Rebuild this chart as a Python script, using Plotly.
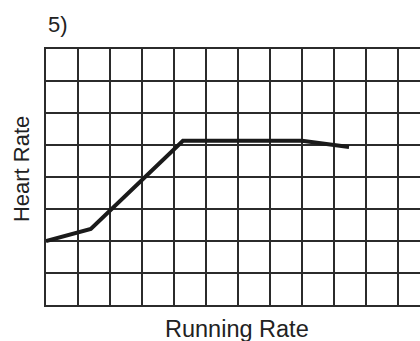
import plotly.graph_objects as go

# Data (grid units)
running_rate = [0, 1.4, 4.28, 8.0, 9.47]
heart_rate = [2, 2.375, 5.13, 5.13, 4.94]
x_grid = list(range(1, 12))
y_grid = list(range(1, 8))

fig = go.Figure()
fig.add_trace(go.Scatter(
    x=running_rate, y=heart_rate, mode="lines",
    line=dict(color="#1a1a1a", width=4),
    hoverinfo="skip", showlegend=False,
))

grid_col = "#2b2b2b"
fig.update_layout(
    width=420, height=341,
    margin=dict(l=46, r=0, t=49, b=36),
    paper_bgcolor="white", plot_bgcolor="white",
    font=dict(family="Liberation Sans, Arial, sans-serif", color="#222", size=22),
    xaxis=dict(range=[0, 374 / 32], tickvals=x_grid, showticklabels=False,
               showgrid=True, gridcolor=grid_col, gridwidth=2,
               showline=True, linecolor=grid_col, linewidth=2, mirror=True,
               zeroline=False, ticks=""),
    yaxis=dict(range=[0, 8], tickvals=y_grid, showticklabels=False,
               showgrid=True, gridcolor=grid_col, gridwidth=2,
               showline=True, linecolor=grid_col, linewidth=2, mirror=False,
               zeroline=False, ticks=""),
    annotations=[
        dict(text="5)", xref="paper", yref="paper", x=0, y=1.094,
             xanchor="left", yanchor="middle", showarrow=False, font=dict(size=22)),
        dict(text="Running Rate", xref="paper", yref="paper", x=0.511, y=-0.094,
             xanchor="center", yanchor="middle", showarrow=False, font=dict(size=23.5)),
        dict(text="Heart Rate", xref="paper", yref="paper", x=-0.0668, y=0.531,
             xanchor="center", yanchor="middle", textangle=-90, showarrow=False,
             font=dict(size=22)),
    ],
)

fig.write_html(
    "out.html",
    config={"displayModeBar": False},
    post_script="document.body.style.margin='0';document.body.style.overflow='hidden';",
)
